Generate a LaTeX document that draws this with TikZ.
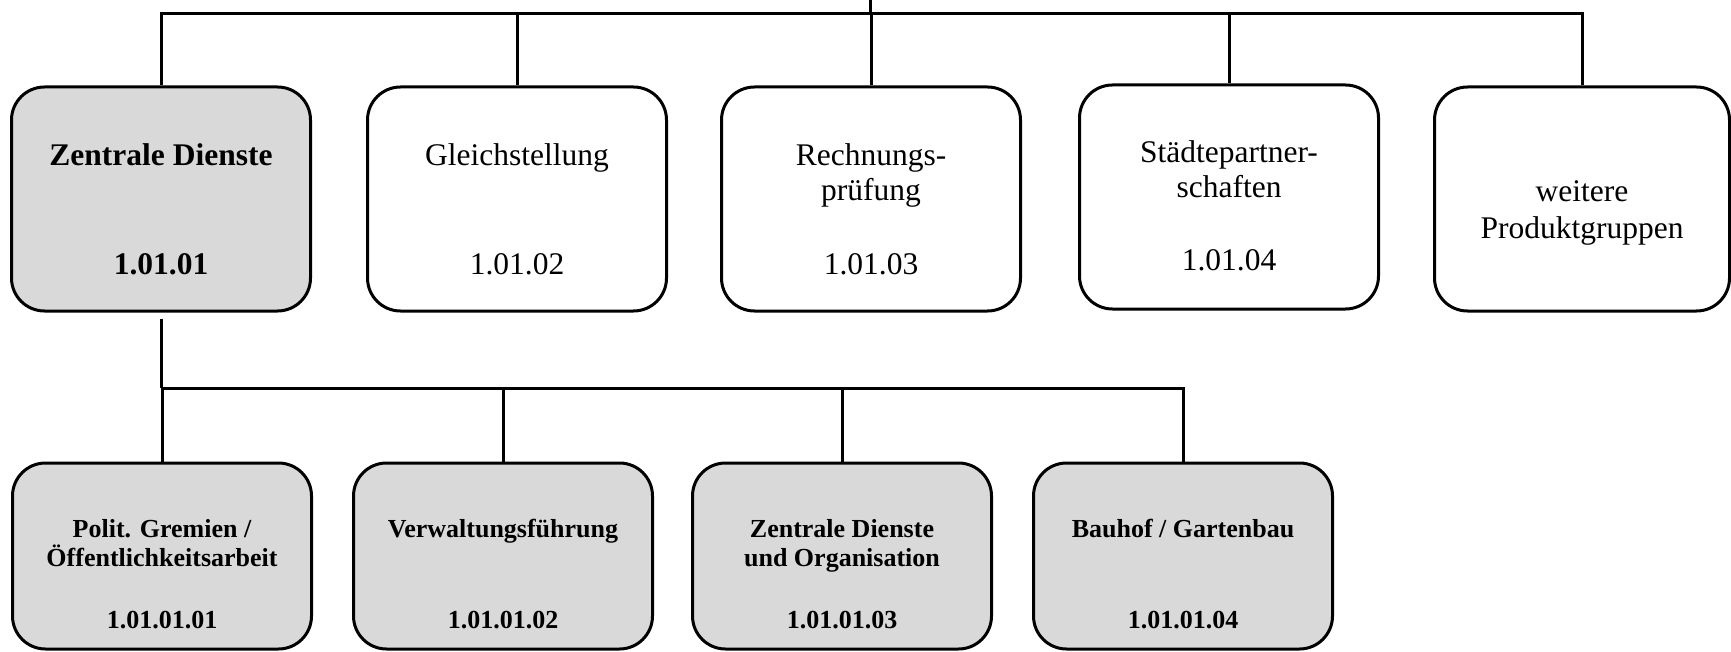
\documentclass[tikz,border=0pt]{standalone}
\usepackage{fontspec}
\setmainfont{Liberation Serif}
\usetikzlibrary{calc}
\definecolor{boxgray}{RGB}{217,217,217}
\begin{document}
\begin{tikzpicture}[x=1pt,y=-1pt,
  box/.style={draw=black, line width=3pt, rounded corners=33pt, inner sep=0pt,
              anchor=north, minimum width=299pt},
  topbox/.style={box, minimum height=224pt},
  subbox/.style={box, minimum height=186pt, fill=boxgray},
  lbl/.style={anchor=base, inner sep=0pt, align=center,
              font=\fontsize{31.5}{34}\selectfont},
  sublbl/.style={anchor=base, inner sep=0pt, align=center,
              font=\fontsize{26}{29}\selectfont\bfseries},
  link/.style={line width=3pt}]
\useasboundingbox (0,0) rectangle (1731,652);

% first level: product groups
\node[topbox, fill=boxgray] (B1) at (161,85.5) {};
\node[topbox] (B2) at (517,85.5) {};
\node[topbox] (B3) at (871,85.5) {};
\node[topbox] (B4) at (1229,83.5) {};
\node[topbox, minimum width=295pt] (B5) at (1582,85.5) {};

% texts (the base anchor of a two-line text is the baseline of its last line)
\node[lbl, font=\fontsize{31.5}{34}\selectfont\bfseries] (t1) at ($(B1.north)+(0,80.5)$) {Zentrale Dienste};
\node[lbl, font=\fontsize{31.5}{34}\selectfont\bfseries] (n1) at ($(B1.north)+(0,189.5)$) {1.01.01};
\node[lbl] (t2) at ($(B2.north)+(0,80.5)$) {Gleichstellung};
\node[lbl] (n2) at ($(B2.north)+(0,189.5)$) {1.01.02};
\node[lbl, font=\fontsize{31.5}{35}\selectfont] (t3) at ($(B3.north)+(0,115.5)$) {Rechnungs-\\prüfung};
\node[lbl] (n3) at ($(B3.north)+(0,189.5)$) {1.01.03};
\node[lbl, font=\fontsize{31.5}{35}\selectfont] (t4) at ($(B4.north)+(0,114.5)$) {Städtepartner-\\schaften};
\node[lbl] (n4) at ($(B4.north)+(0,186.5)$) {1.01.04};
\node[lbl, font=\fontsize{31.5}{37}\selectfont] (t5) at ($(B5.north)+(0,153)$) {weitere\\Produktgruppen};

% second level: products of Zentrale Dienste
\node[subbox] (S1) at (162,461.5) {};
\node[subbox] (S2) at (503,461.5) {};
\node[subbox] (S3) at (842,461.5) {};
\node[subbox] (S4) at (1183,461.5) {};

\node[sublbl] (u1) at ($(S1.north)+(0,104.5)$) {Polit. Gremien /\\Öffentlichkeitsarbeit};
\node[sublbl] (m1) at ($(S1.north)+(0,166.5)$) {1.01.01.01};
\node[sublbl] (u2) at ($(S2.north)+(0,75.5)$) {Verwaltungsführung};
\node[sublbl] (m2) at ($(S2.north)+(0,166.5)$) {1.01.01.02};
\node[sublbl] (u3) at ($(S3.north)+(0,104.5)$) {Zentrale Dienste\\und Organisation};
\node[sublbl] (m3) at ($(S3.north)+(0,166.5)$) {1.01.01.03};
\node[sublbl] (u4) at ($(S4.north)+(0,75.5)$) {Bauhof / Gartenbau};
\node[sublbl] (m4) at ($(S4.north)+(0,166.5)$) {1.01.01.04};

% connectors of the first level
\coordinate (root) at (870,0);
\coordinate (topbar) at (870,14);
\draw[link] (root) -- (topbar);
\draw[link] (B1.north) |- (topbar);
\draw[link] (B5.north) |- (topbar);
\draw[link] (B2.north) -- (B2.north |- topbar);
\draw[link] (B3.north) -- (B3.north |- topbar);
\draw[link] (B4.north) -- (B4.north |- topbar);

% connectors of the second level
\coordinate (subbar) at (162,388);
\draw[link, shorten <=6pt] (B1.south) -- (B1.south |- subbar);
\draw[link] (S1.north) -- (S1.north |- subbar) -| (S4.north);
\draw[link] (S2.north) -- (S2.north |- subbar);
\draw[link] (S3.north) -- (S3.north |- subbar);
\end{tikzpicture}
\end{document}
